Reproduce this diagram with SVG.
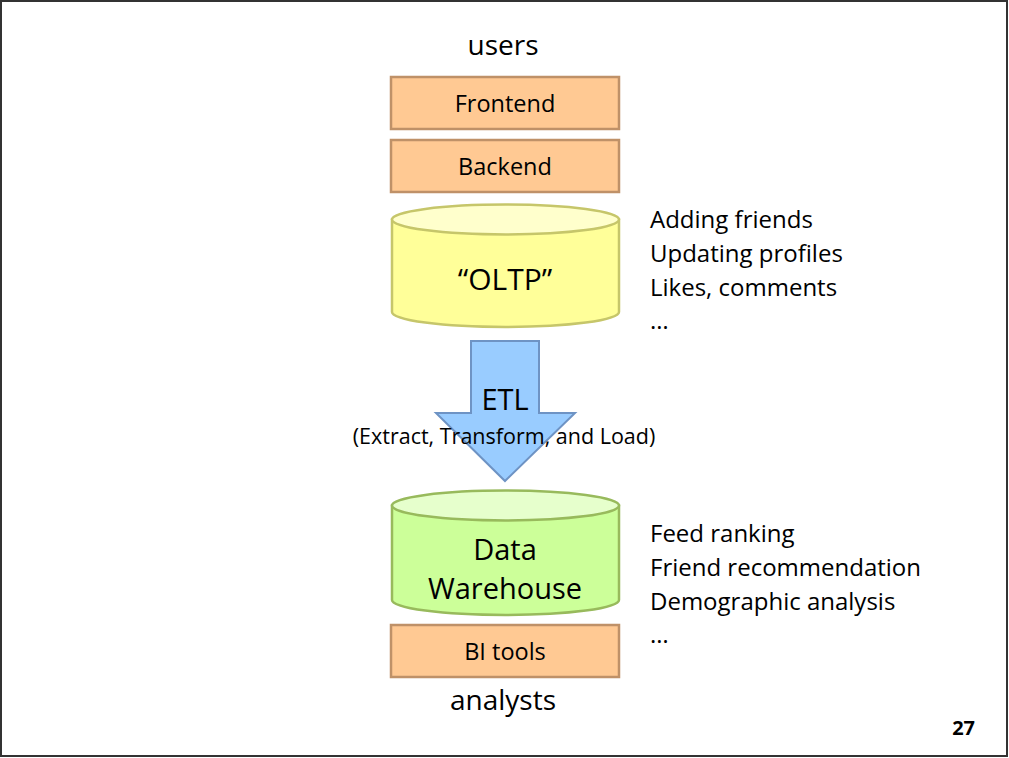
<svg xmlns="http://www.w3.org/2000/svg" width="1009" height="758" viewBox="0 0 1009 758">
  <style>
    text { font-family: "Open Sans", "Noto Sans", "Liberation Sans", sans-serif; fill: #000; }
    .box { fill: #FFC993; stroke: #BF9168; stroke-width: 2.5; }
    .boxlbl { font-size: 23.5px; text-anchor: middle; }
    .big { font-size: 28px; text-anchor: middle; }
    .note { font-size: 24px; }
    .oltp-body { fill: #FFFF99; stroke: #C6C66A; stroke-width: 2.5; }
    .oltp-top { fill: #FFFFCC; stroke: #C6C66A; stroke-width: 2.5; }
    .dw-body { fill: #CCFF99; stroke: #98BA5C; stroke-width: 2.5; }
    .dw-top { fill: #E6FFCC; stroke: #98BA5C; stroke-width: 2.5; }
  </style>

  <!-- page frame -->
  <rect x="1" y="1" width="1006" height="755" fill="#fff" stroke="#333" stroke-width="2"/>

  <text id="users" class="big" x="503" y="55">users</text>

  <g id="frontend">
    <rect class="box" x="391" y="77" width="228" height="52"/>
    <text class="boxlbl" x="505" y="112">Frontend</text>
  </g>

  <g id="backend">
    <rect class="box" x="391" y="140" width="228" height="52"/>
    <text class="boxlbl" x="505" y="175">Backend</text>
  </g>

  <g id="oltp">
    <path class="oltp-body" d="M392,219.5 L392,312 A113.5,15 0 0 0 619,312 L619,219.5 Z"/>
    <ellipse class="oltp-top" cx="505.5" cy="219.5" rx="113.5" ry="15"/>
    <text x="505" y="290" font-size="30" text-anchor="middle">“OLTP”</text>
  </g>

  <g id="oltp-notes" class="note">
    <text x="650" y="228">Adding friends</text>
    <text x="650" y="262">Updating profiles</text>
    <text x="650" y="296">Likes, comments</text>
    <text x="650" y="329">…</text>
  </g>

  <g id="connectors">
    <path d="M471,341 L539,341 L539,413 L575,413 L505,481 L436,413 L471,413 Z" fill="#99CCFF" stroke="#6E93C4" stroke-width="2"/>
  </g>

  <g id="etl">
    <text x="505" y="410" font-size="29" text-anchor="middle">ETL</text>
    <text x="504" y="444" font-size="21.5" text-anchor="middle">(Extract, Transform, and Load)</text>
  </g>

  <g id="warehouse">
    <path class="dw-body" d="M392,505.5 L392,600 A113.5,15 0 0 0 619,600 L619,505.5 Z"/>
    <ellipse class="dw-top" cx="505.5" cy="505.5" rx="113.5" ry="15"/>
    <text x="505" y="560" font-size="29" text-anchor="middle">Data</text>
    <text x="505" y="599" font-size="29" text-anchor="middle">Warehouse</text>
  </g>

  <g id="dw-notes" class="note">
    <text x="650" y="542">Feed ranking</text>
    <text x="650" y="576">Friend recommendation</text>
    <text x="650" y="610">Demographic analysis</text>
    <text x="650" y="643">…</text>
  </g>

  <g id="bi-tools">
    <rect class="box" x="391" y="625" width="228" height="52"/>
    <text class="boxlbl" x="505" y="660">BI tools</text>
  </g>

  <text id="analysts" class="big" x="503" y="710">analysts</text>

  <text id="page-number" x="975" y="735" font-family="Liberation Sans, Arial, sans-serif" font-size="20" font-weight="bold" text-anchor="end">27</text>
</svg>
